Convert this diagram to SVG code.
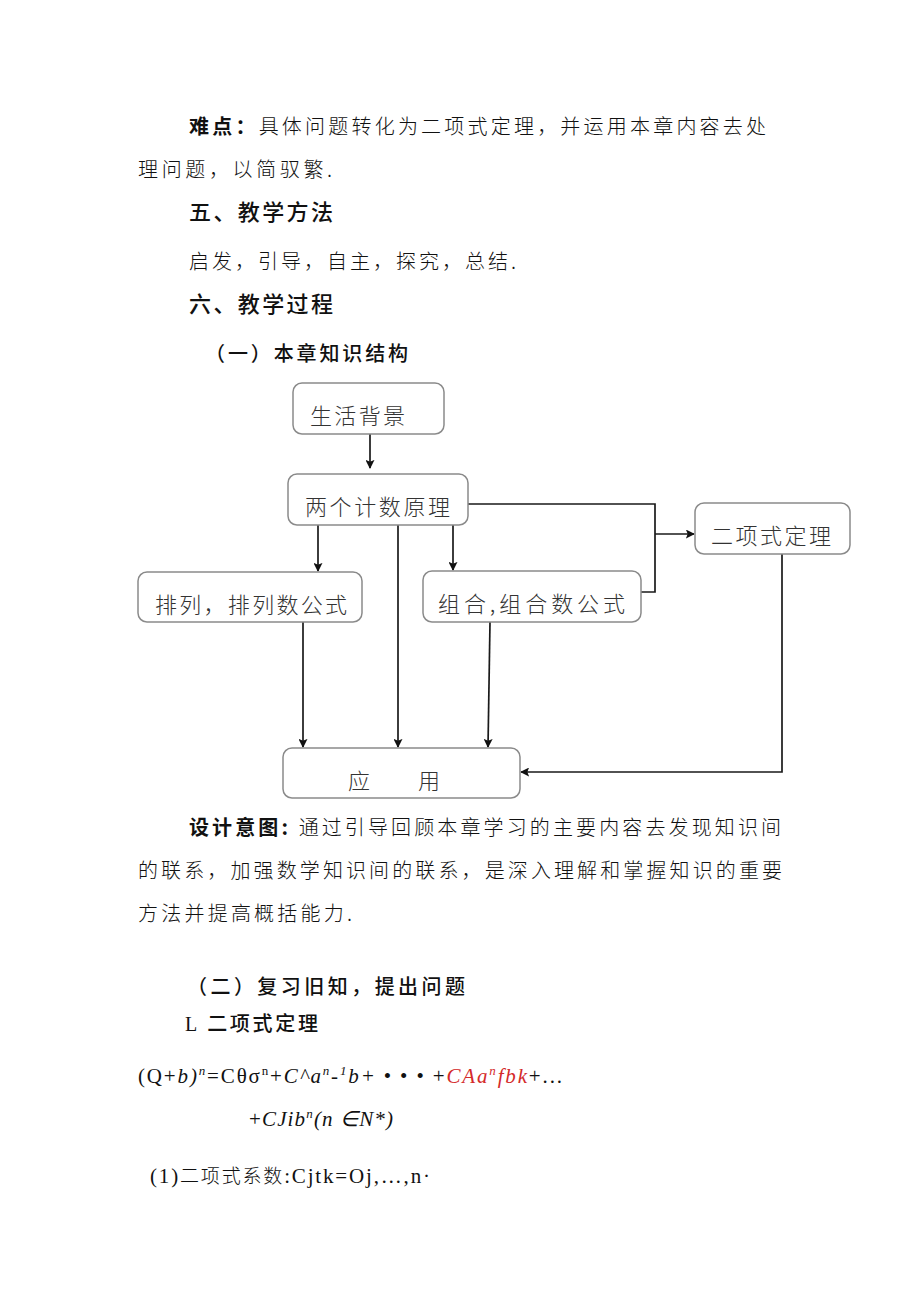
<svg xmlns="http://www.w3.org/2000/svg" width="920" height="1301" viewBox="0 0 920 1301">
<defs>
<style>
.cn{font-family:"Noto Sans CJK SC","Noto Sans",sans-serif;font-size:20px;fill:#111;font-weight:300}
.b{font-weight:700}
.h{font-family:"Noto Sans CJK SC",sans-serif;font-size:22px;fill:#111;font-weight:500}
.box{fill:#fff;stroke:#8a8a8a;stroke-width:1.5}
.bt{font-family:"Noto Sans CJK SC",sans-serif;font-size:22px;fill:#333;font-weight:300}
.con{fill:none;stroke:#1a1a1a;stroke-width:1.7}
.m{font-family:"Liberation Serif","Times New Roman",serif;font-size:21px;fill:#111}
.i{font-style:italic}
.red{fill:#d42a2a}
.sup{font-size:13px}
</style>
<marker id="ah" viewBox="0 0 10 10" refX="9" refY="5" markerWidth="9" markerHeight="9" orient="auto" markerUnits="userSpaceOnUse">
<path d="M0,0 L10,5 L0,10 L2,5 z" fill="#111"/>
</marker>
</defs>
<rect width="920" height="1301" fill="#fff"/>

<text class="cn" x="189" y="134" textLength="577" lengthAdjust="spacing"><tspan class="b">难点：</tspan>具体问题转化为二项式定理，并运用本章内容去处</text>
<text class="cn" x="138" y="177" textLength="194" lengthAdjust="spacing">理问题，以简驭繁.</text>
<text class="h" x="189" y="220" textLength="144" lengthAdjust="spacing">五、教学方法</text>
<text class="cn" x="189" y="269" textLength="327" lengthAdjust="spacing">启发，引导，自主，探究，总结.</text>
<text class="h" x="189" y="312" textLength="144" lengthAdjust="spacing">六、教学过程</text>
<text class="h" x="205" y="361" style="font-size:20px" textLength="203" lengthAdjust="spacing">（一）本章知识结构</text>

<g id="connectors">
<line class="con" x1="370" y1="434" x2="370" y2="468" marker-end="url(#ah)"/>
<line class="con" x1="318" y1="525" x2="318" y2="571" marker-end="url(#ah)"/>
<line class="con" x1="398" y1="525" x2="398" y2="747" marker-end="url(#ah)"/>
<line class="con" x1="453" y1="525" x2="453" y2="570" marker-end="url(#ah)"/>
<polyline class="con" points="468,504 655,504 655,592 641,592"/>
<line class="con" x1="655" y1="534" x2="694" y2="534" marker-end="url(#ah)"/>
<line class="con" x1="303" y1="622" x2="303" y2="747" marker-end="url(#ah)"/>
<line class="con" x1="490" y1="622" x2="488" y2="747" marker-end="url(#ah)"/>
<polyline class="con" points="782,554 782,772 521,772" marker-end="url(#ah)"/>
</g>

<g id="n1"><rect class="box" x="293" y="383" width="151" height="51" rx="9"/>
<text class="bt" x="310" y="424" textLength="95" lengthAdjust="spacing">生活背景</text></g>
<g id="n2"><rect class="box" x="288" y="474" width="180" height="51" rx="9"/>
<text class="bt" x="305" y="515" textLength="145" lengthAdjust="spacing">两个计数原理</text></g>
<g id="n3"><rect class="box" x="695" y="503" width="155" height="51" rx="9"/>
<text class="bt" x="711" y="544" textLength="120" lengthAdjust="spacing">二项式定理</text></g>
<g id="n4"><rect class="box" x="138" y="572" width="224" height="50" rx="9"/>
<text class="bt" x="155" y="613" textLength="192" lengthAdjust="spacing">排列，排列数公式</text></g>
<g id="n5"><rect class="box" x="423" y="571" width="218" height="51" rx="9"/>
<text class="bt" x="438" y="612" textLength="187" lengthAdjust="spacing">组合,组合数公式</text></g>
<g id="n6"><rect class="box" x="283" y="748" width="237" height="50" rx="9"/>
<text class="bt" x="348" y="789">应</text><text class="bt" x="418" y="789">用</text></g>

<text class="cn" x="189" y="835" textLength="592" lengthAdjust="spacing"><tspan class="b">设计意图:</tspan> 通过引导回顾本章学习的主要内容去发现知识间</text>
<text class="cn" x="138" y="878" textLength="644" lengthAdjust="spacing">的联系，加强数学知识间的联系，是深入理解和掌握知识的重要</text>
<text class="cn" x="138" y="921" textLength="214" lengthAdjust="spacing">方法并提高概括能力.</text>

<text class="h" x="187" y="994" style="font-size:20px" textLength="278" lengthAdjust="spacing">（二）复习旧知，提出问题</text>
<text class="h" x="185" y="1031" style="font-size:20px" textLength="133" lengthAdjust="spacing"><tspan style="font-family:'Liberation Serif',serif;font-weight:400">L</tspan> 二项式定理</text>

<text class="m" x="138" y="1083" textLength="424" lengthAdjust="spacing">(Q+<tspan class="i">b)</tspan><tspan class="i sup" dy="-8">n</tspan><tspan dy="8">=Cθσ</tspan><tspan class="sup" dy="-8">n</tspan><tspan dy="8">+</tspan><tspan class="i">C^a</tspan><tspan class="i sup" dy="-8">n</tspan><tspan class="i" dy="8">-</tspan><tspan class="i sup" dy="-8">1</tspan><tspan class="i" dy="8">b+</tspan> • • • +<tspan class="i red">CAa</tspan><tspan class="i sup red" dy="-8">n</tspan><tspan class="i red" dy="8">fbk</tspan>+...</text>
<text class="m" x="249" y="1126" textLength="144" lengthAdjust="spacing">+<tspan class="i">CJib</tspan><tspan class="i sup" dy="-8">n</tspan><tspan class="i" dy="8">(n ∈N*)</tspan></text>
<text class="m" x="150" y="1183" textLength="280" lengthAdjust="spacing">(1)<tspan style="font-family:'Noto Sans CJK SC',sans-serif;font-size:19px;font-weight:300">二项式系数</tspan>:Cjtk=Oj,…,n·</text>
</svg>
